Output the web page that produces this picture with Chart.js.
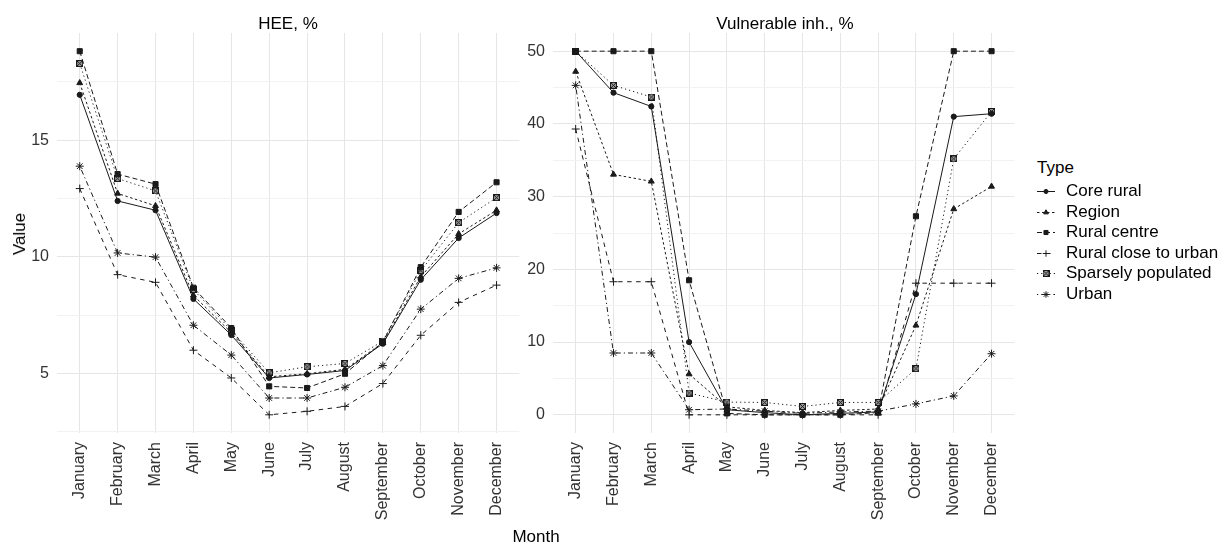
<!DOCTYPE html>
<html>
<head>
<meta charset="utf-8">
<script src="https://cdn.jsdelivr.net/npm/chart.js@4.4.1/dist/chart.umd.min.js"></script>
<style>
  body { margin: 0; background: #fff; font-family: "Liberation Sans", Arial, sans-serif; }
  #wrap { position: relative; width: 1220px; height: 547px; overflow: hidden; }
  canvas.plot { position: absolute; top: 0; }
  .lbl { position: absolute; transform: translate(-50%, -50%); white-space: nowrap; color: #000; font-size: 17px; font-weight: 400; }
  #legend { position: absolute; left: 1037px; top: 157px; font-size: 17px; color: #000; }
  #legend .title { height: 24px; line-height: 22px; }
  #legend .item { height: 20.5px; display: flex; align-items: center; }
  #legend .item canvas { margin-right: 11px; }
</style>
</head>
<body>
<div id="wrap">
  <canvas id="hee" class="plot" width="525" height="547" style="left:0"></canvas>
  <canvas id="vul" class="plot" width="495" height="547" style="left:525px"></canvas>
  <div class="lbl" style="left:288px; top:24px">HEE, %</div>
  <div class="lbl" style="left:785px; top:24px">Vulnerable inh., %</div>
  <div class="lbl" style="left:20px; top:234px; transform:translate(-50%,-50%) rotate(-90deg)">Value</div>
  <div class="lbl" style="left:536px; top:537px">Month</div>
  <div id="legend"><div class="title">Type</div></div>
</div>
<script>
// months and series types
const months = ['January', 'February', 'March', 'April', 'May', 'June', 'July',
  'August', 'September', 'October', 'November', 'December'];
const types = ['Core rural', 'Region', 'Rural centre', 'Rural close to urban', 'Sparsely populated', 'Urban'];

// HEE, %
const heeCoreRural    = [16.95, 12.40, 12.00, 8.20, 6.65, 4.81, 4.96, 5.13, 6.28, 9.02, 10.81, 11.88];
const heeRegion       = [17.46, 12.72, 12.19, 8.35, 6.75, 4.86, 4.99, 5.18, 6.32, 9.15, 10.99, 12.00];
const heeRuralCentre  = [18.82, 13.55, 13.12, 8.68, 6.95, 4.45, 4.38, 4.99, 6.35, 9.56, 11.93, 13.20];
const heeRuralClose   = [12.93, 9.24, 8.91, 6.00, 4.81, 3.23, 3.38, 3.59, 4.57, 6.64, 8.05, 8.79];
const heeSparsely     = [18.29, 13.36, 12.83, 8.60, 6.85, 5.03, 5.29, 5.43, 6.39, 9.41, 11.47, 12.54];
const heeUrban        = [13.89, 10.17, 9.99, 7.07, 5.79, 3.95, 3.95, 4.41, 5.34, 7.76, 9.08, 9.53];

// Vulnerable inh., %
const vulCoreRural    = [50, 44.3, 42.4, 10.0, 0.7, 0.3, 0.0, 0.2, 0.4, 16.6, 41.0, 41.4];
const vulRegion       = [47.2, 33.05, 32.1, 5.6, 1.1, 0.6, 0.3, 0.6, 0.8, 12.3, 28.3, 31.4];
const vulRuralCentre  = [50, 50, 50, 18.5, 0.2, 0.0, 0.0, 0.0, 0.3, 27.3, 50, 50];
const vulRuralClose   = [39.3, 18.3, 18.3, 0.0, 0.0, 0.0, 0.0, 0.0, 0.0, 18.1, 18.1, 18.1];
const vulSparsely     = [50, 45.3, 43.7, 3.0, 1.75, 1.7, 1.15, 1.7, 1.7, 6.35, 35.2, 41.7];
const vulUrban        = [45.3, 8.5, 8.5, 0.7, 0.8, 0.5, 0.2, 0.4, 0.5, 1.5, 2.6, 8.4];

// axis breaks
const heeMajor = [5, 10, 15];
const heeMinor = [2.5, 7.5, 12.5, 17.5];
const vulMajor = [0, 10, 20, 30, 40, 50];
const vulMinor = [5, 15, 25, 35, 45];

const ink = '#1a1a1a';
const gridMajor = '#e6e6e6';
const gridMinor = '#f2f2f2';

// box with an x inside (ggplot shape 7)
function boxX() {
  const c = document.createElement('canvas');
  c.width = 7; c.height = 7;
  const g = c.getContext('2d');
  g.fillStyle = '#9a9a9a';
  g.fillRect(0.5, 0.5, 6, 6);
  g.strokeStyle = ink;
  g.lineWidth = 1;
  g.strokeRect(0.5, 0.5, 6, 6);
  g.beginPath();
  g.moveTo(1, 1); g.lineTo(6, 6);
  g.moveTo(6, 1); g.lineTo(1, 6);
  g.stroke();
  return c;
}

const looks = [
  { dash: [], point: 'circle', r: 2.6 },
  { dash: [2.5, 2.5], point: 'triangle', r: 3.4 },
  { dash: [5, 3], point: 'rect', r: 3.6 },
  { dash: [4.5, 4.5], point: 'cross', r: 4 },
  { dash: [1.2, 3], point: boxX(), r: 3.5 },
  { dash: [1.2, 3, 5, 3], point: 'star', r: 4 }
];

function makeSets(series) {
  return series.map((vals, k) => ({
    label: types[k],
    data: vals.map((v, i) => ({ x: i, y: v })),
    borderColor: ink,
    backgroundColor: ink,
    borderWidth: 1,
    borderDash: looks[k].dash,
    pointStyle: looks[k].point,
    pointRadius: looks[k].r,
    pointBorderWidth: 1,
    pointBorderColor: ink,
    pointBackgroundColor: ink,
    tension: 0
  }));
}

function makeChart(id, series, yMin, yMax, major, minor, yWidth, padRight) {
  const allTicks = major.concat(minor).sort((a, b) => a - b);
  return new Chart(document.getElementById(id), {
    type: 'line',
    data: { datasets: makeSets(series) },
    options: {
      responsive: false,
      animation: false,
      devicePixelRatio: 1,
      layout: { padding: { top: 33, right: padRight, left: 0, bottom: 0 } },
      plugins: { legend: { display: false }, tooltip: { enabled: false } },
      scales: {
        x: {
          type: 'linear',
          min: -0.6,
          max: 11.6,
          afterBuildTicks: s => { s.ticks = months.map((m, i) => ({ value: i })); },
          afterFit: s => { s.height = 114; },
          grid: { color: gridMajor, lineWidth: 1, drawTicks: false },
          border: { display: false },
          ticks: {
            autoSkip: false,
            minRotation: 90,
            maxRotation: 90,
            padding: 9,
            color: '#333',
            font: { family: 'Liberation Sans', size: 16 },
            callback: v => months[v]
          }
        },
        y: {
          min: yMin,
          max: yMax,
          afterBuildTicks: s => { s.ticks = allTicks.map(v => ({ value: v })); },
          afterFit: s => { s.width = yWidth; },
          grid: {
            color: c => (c.tick && major.includes(c.tick.value)) ? gridMajor : gridMinor,
            lineWidth: 1,
            drawTicks: false
          },
          border: { display: false },
          ticks: {
            padding: 8,
            color: '#333',
            font: { family: 'Liberation Sans', size: 16 },
            callback: v => major.includes(v) ? String(v) : ''
          }
        }
      }
    }
  });
}

makeChart('hee', [heeCoreRural, heeRegion, heeRuralCentre, heeRuralClose, heeSparsely, heeUrban],
  2.45, 19.6, heeMajor, heeMinor, 57, 5);
makeChart('vul', [vulCoreRural, vulRegion, vulRuralCentre, vulRuralClose, vulSparsely, vulUrban],
  -2.5, 52.5, vulMajor, vulMinor, 28, 4);

// legend keys
const legend = document.getElementById('legend');
types.forEach((t, k) => {
  const row = document.createElement('div');
  row.className = 'item';
  const key = document.createElement('canvas');
  key.width = 18; key.height = 14;
  const g = key.getContext('2d');
  g.strokeStyle = ink; g.fillStyle = ink; g.lineWidth = 1;
  g.setLineDash(looks[k].dash);
  g.beginPath(); g.moveTo(0, 7.5); g.lineTo(18, 7.5); g.stroke();
  g.setLineDash([]);
  Chart.helpers.drawPoint(g, { pointStyle: looks[k].point, radius: looks[k].r * 0.8, rotation: 0, borderWidth: 1 }, 9, 7.5);
  row.appendChild(key);
  const txt = document.createElement('span');
  txt.textContent = t;
  row.appendChild(txt);
  legend.appendChild(row);
});
</script>
</body>
</html>
